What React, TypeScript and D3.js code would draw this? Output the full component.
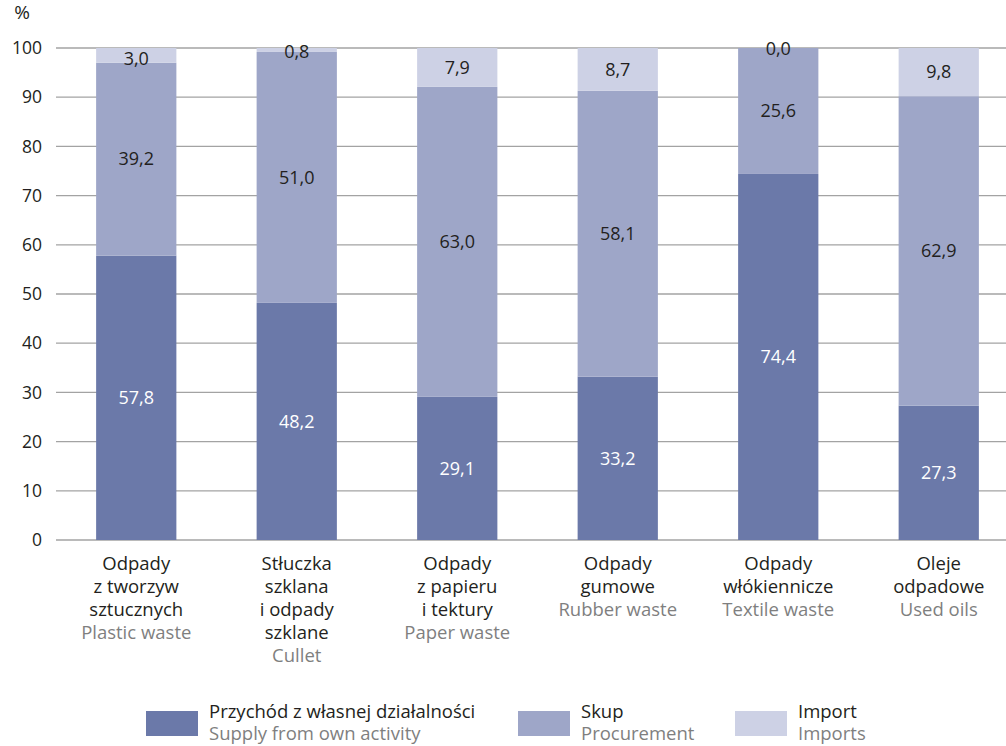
import React from "react";
import * as d3 from "d3";

const categoriesPl: string[][] = [
  ["Odpady", "z tworzyw", "sztucznych"],
  ["Stłuczka", "szklana", "i odpady", "szklane"],
  ["Odpady", "z papieru", "i tektury"],
  ["Odpady", "gumowe"],
  ["Odpady", "włókiennicze"],
  ["Oleje", "odpadowe"],
];
const categoriesEn: string[] = ["Plastic waste", "Cullet", "Paper waste", "Rubber waste", "Textile waste", "Used oils"];

const ownActivity: number[] = [57.8, 48.2, 29.1, 33.2, 74.4, 27.3];
const procurement: number[] = [39.2, 51.0, 63.0, 58.1, 25.6, 62.9];
const imports: number[] = [3.0, 0.8, 7.9, 8.7, 0.0, 9.8];

const yTicks: number[] = [0, 10, 20, 30, 40, 50, 60, 70, 80, 90, 100];

const seriesNamesPl: string[] = ["Przychód z własnej działalności", "Skup", "Import"];
const seriesNamesEn: string[] = ["Supply from own activity", "Procurement", "Imports"];

const COLORS = ["#6b79a9", "#9ea6c8", "#cdd1e5"];
const FONT = "'Open Sans', sans-serif";
const TEXT = "#231f20";
const GRAY = "#7f7f7f";

export default function App() {
  const width = 1006;
  const height = 746;
  const keys = ["own", "proc", "imp"];
  const rows = ownActivity.map((v, i) => ({
    idx: i,
    own: v,
    proc: procurement[i],
    imp: imports[i],
  }));
  const stacked = d3.stack<any>().keys(keys)(rows);

  const x = d3
    .scaleBand<number>()
    .domain(rows.map((r) => r.idx))
    .range([56, 1019])
    .paddingInner(0.5)
    .paddingOuter(0.25);
  const y = d3.scaleLinear().domain([0, 100]).range([540, 48]);
  const fmt = (v: number) => v.toFixed(1).replace(".", ",");

  const labelY = (y0: number, y1: number) => {
    const top = y(y1);
    const bot = y(y0);
    const h = bot - top;
    const c = (top + bot) / 2;
    if (h < 1) return top + 1;
    if (h < 5) return top + 4;
    if (h < 20) return top + 11;
    return c;
  };

  const legendX = [146, 518, 735];

  return (
    <svg width={width} height={height} style={{ display: "block", position: "absolute", left: 0, top: 0 }} fontFamily={FONT}>
      <rect width={width} height={height} fill="#fff" />
      {/* grid */}
      {yTicks.map((t) => (
        <g key={t}>
          <line x1={56} x2={1006} y1={y(t)} y2={y(t)} stroke="#a3a3a3" strokeWidth={t === 0 ? 1.6 : 1.3} />
          <text x={42} y={y(t)} dy="0.35em" textAnchor="end" fontSize={17.5} fill={TEXT}>
            {t}
          </text>
        </g>
      ))}
      <text x={22} y={12} dy="0.35em" textAnchor="middle" fontSize={19} fill={TEXT}>
        %
      </text>
      {/* bars */}
      {stacked.map((s, si) => (
        <g key={s.key}>
          {s.map((d, i) => (
            <rect
              key={i}
              x={x(i)!}
              width={x.bandwidth()}
              y={y(d[1])}
              height={Math.max(0, y(d[0]) - y(d[1]))}
              fill={COLORS[si]}
            />
          ))}
        </g>
      ))}
      {/* labels */}
      {stacked.map((s, si) => (
        <g key={"l" + s.key}>
          {s.map((d, i) => (
            <text
              key={i}
              x={x(i)! + x.bandwidth() / 2}
              y={labelY(d[0], d[1])}
              dy="0.35em"
              textAnchor="middle"
              fontSize={18}
              fill={si === 0 ? "#ffffff" : TEXT}
            >
              {fmt(d[1] - d[0])}
            </text>
          ))}
        </g>
      ))}
      {/* categories */}
      {categoriesPl.map((lines, i) => {
        const cx = x(i)! + x.bandwidth() / 2;
        return (
          <text key={i} x={cx} textAnchor="middle" fontSize={18.5}>
            {lines.map((ln, j) => (
              <tspan key={j} x={cx} y={570 + j * 23} fill={TEXT}>
                {ln}
              </tspan>
            ))}
            <tspan x={cx} y={570 + lines.length * 23} fill={GRAY}>
              {categoriesEn[i]}
            </tspan>
          </text>
        );
      })}
      {/* legend */}
      {seriesNamesPl.map((n, i) => (
        <g key={n}>
          <rect x={legendX[i]} y={711} width={52} height={25} fill={COLORS[i]} />
          <text x={legendX[i] + 63} y={718} fontSize={18.5} fill={TEXT}>
            {n}
          </text>
          <text x={legendX[i] + 63} y={740} fontSize={18.5} fill={GRAY}>
            {seriesNamesEn[i]}
          </text>
        </g>
      ))}
    </svg>
  );
}
